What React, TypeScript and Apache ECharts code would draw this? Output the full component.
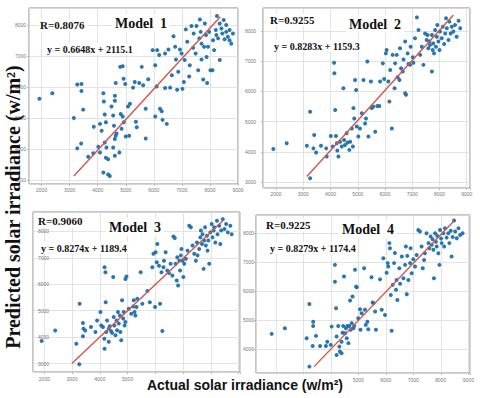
import React, { useEffect, useRef } from "react";
import * as echarts from "echarts";

// ---------- data (actual, predicted) ----------
const model1Points: [number, number][] = [
  [1920, 5620], [2380, 5800], [3150, 5000], [3270, 6080], [3420, 6100], [3420, 5870], [3480, 5270],
  [3270, 4020], [3410, 4180], [3660, 3750], [3860, 4720], [3840, 3860], [4020, 4070], [4080, 3890],
  [4200, 5800], [4220, 5530], [4250, 5110], [4290, 4860], [4080, 4810], [4140, 4590], [4250, 4210],
  [4310, 4050], [4290, 3720], [4370, 3670], [4200, 3240], [4370, 3180], [4430, 3130], [4490, 5370],
  [4610, 5720], [4610, 5560], [4640, 6130], [4550, 5080], [4580, 4750], [4640, 4430], [4610, 4320],
  [4670, 4500], [4550, 4050], [4610, 3780], [4770, 3890], [4800, 6650], [4890, 6670], [4920, 6270],
  [4980, 6100], [4820, 5130], [4890, 5050], [4930, 4860], [4850, 4650], [5000, 4400], [5120, 4430],
  [5080, 5370], [5150, 5460], [5260, 5980], [5320, 6160], [5360, 4880], [5390, 4700], [5480, 6130],
  [5570, 6650], [5620, 6060], [5710, 5300], [5710, 4340], [5800, 6250], [5960, 7190], [6050, 6700],
  [6100, 6020], [6120, 7190], [6190, 7030], [6050, 5050], [6220, 5300], [6280, 5220], [6310, 4940],
  [6460, 4810], [6400, 7080], [6400, 5970], [6520, 7210], [6580, 5980], [6640, 6380], [6700, 7640],
  [6760, 7300], [6790, 6890], [6830, 5910], [6870, 6490], [6930, 7210], [6990, 7080], [7020, 5940],
  [7070, 6160], [7100, 6870], [7140, 7860], [7190, 7460], [7260, 6340], [7280, 6700], [7340, 7970],
  [7400, 7270], [7420, 7730], [7490, 7080], [7580, 6540], [7620, 7570], [7640, 8180], [7670, 7780],
  [7700, 7400], [7760, 6240], [7790, 7300], [7820, 8050], [7860, 7680], [7880, 6970], [7900, 6130],
  [7930, 7300], [7970, 7780], [8020, 6540], [8090, 6540], [8110, 7510], [8150, 7190], [8210, 7840],
  [8230, 7680], [8290, 7570], [8350, 6870], [8410, 7890], [8440, 7730], [8490, 8160], [8520, 7540],
  [8580, 7780], [8640, 7620], [8700, 7840], [8760, 7400], [8820, 7730], [8250, 8290], [8350, 8050],
  [8580, 8000], [8700, 7510], [7700, 6890], [7520, 7970],
];

const model2Points: [number, number][] = [
  [1900, 4100], [2390, 4290], [3130, 4210], [3250, 5330], [3400, 4560], [3370, 4120], [3470, 3980],
  [3250, 3130], [3650, 4210], [3840, 4120], [3860, 3850], [4010, 4530], [4080, 4180], [4130, 6950],
  [4140, 6600], [4170, 5390], [4200, 4530], [4230, 4290], [4250, 4050], [4290, 3850], [4350, 4340],
  [4410, 4180], [4470, 6110], [4500, 4400], [4530, 4230], [4590, 4620], [4620, 4310], [4690, 4070],
  [4720, 4340], [4780, 4780], [4820, 4180], [4840, 5450], [4870, 5110], [4900, 6380], [4940, 6050],
  [4960, 4840], [5020, 4510], [5080, 4780], [5150, 5280], [5210, 6380], [5270, 4940], [5300, 5110],
  [5350, 6990], [5390, 4510], [5480, 6330], [5510, 5450], [5570, 5500], [5640, 4670], [5720, 5520],
  [5790, 5520], [5820, 6330], [5920, 6930], [5970, 6410], [6030, 7260], [6060, 7370], [6120, 6330],
  [6160, 5670], [6190, 6710], [6250, 4780], [6280, 7210], [6350, 6110], [6370, 6930], [6430, 7210],
  [6460, 6470], [6530, 6380], [6550, 7430], [6590, 6770], [6650, 6660], [6680, 7060], [6740, 7650],
  [6740, 5940], [6770, 5890], [6830, 7260], [6860, 6910], [6920, 6880], [6940, 7480], [7020, 7130],
  [7040, 6950], [7100, 7760], [7170, 8450], [7230, 8030], [7290, 7210], [7350, 7480], [7410, 6880],
  [7470, 7920], [7530, 7700], [7560, 7870], [7590, 7430], [7630, 7650], [7650, 7540], [7720, 6660],
  [7720, 7870], [7750, 7370], [7770, 7590], [7800, 7260], [7840, 8030], [7870, 7480], [7900, 7810],
  [7920, 8200], [7960, 7650], [8000, 7370], [8020, 7980], [8080, 7760], [8120, 8140], [8170, 7570],
  [8210, 7920], [8240, 8420], [8270, 8090], [8330, 7700], [8360, 8310], [8410, 7920], [8450, 8140],
  [8510, 7980], [8570, 8200], [8630, 7810], [8700, 8340], [8760, 8090],
];

const model3Points: [number, number][] = [
  [1900, 3850], [2390, 4250], [3150, 3750], [3260, 2970], [3270, 5260], [3390, 4530], [3410, 4320],
  [3470, 4250], [3390, 4030], [3680, 4380], [3840, 4190], [3900, 4630], [4020, 4950], [4050, 4440],
  [4110, 4380], [4160, 3940], [4170, 3560], [4170, 6640], [4200, 6450], [4210, 5320], [4230, 4190],
  [4260, 4630], [4320, 4320], [4320, 3820], [4360, 4410], [4400, 4230], [4440, 4160], [4480, 6270],
  [4500, 4760], [4520, 4440], [4560, 4070], [4600, 4630], [4620, 4260], [4650, 4950], [4680, 4510],
  [4720, 4820], [4740, 4190], [4770, 3880], [4800, 5390], [4840, 4700], [4860, 4950], [4890, 4440],
  [4920, 6200], [4920, 4570], [4960, 6290], [5040, 5070], [5130, 4880], [5200, 5160], [5220, 5390],
  [5250, 4950], [5280, 4820], [5320, 5140], [5350, 5450], [5470, 6450], [5530, 5260], [5710, 5740],
  [5800, 5320], [5890, 6640], [5930, 7150], [5990, 5140], [6010, 7210], [6050, 6830], [6070, 7520],
  [6130, 6700], [6170, 5260], [6220, 6450], [6250, 4230], [6290, 6640], [6310, 6890], [6370, 7210],
  [6430, 6520], [6490, 6420], [6550, 6770], [6610, 6330], [6650, 7800], [6700, 7750], [6730, 6770],
  [6770, 6140], [6790, 7020], [6820, 5950], [6860, 6890], [6890, 6520], [6920, 7090], [6940, 7330],
  [6980, 6890], [7010, 6270], [7040, 6770], [7100, 6960], [7160, 7270], [7220, 8210], [7280, 8150],
  [7340, 7460], [7400, 7150], [7460, 6890], [7500, 7580], [7520, 7090], [7580, 7330], [7620, 7770],
  [7640, 8030], [7680, 7520], [7700, 7890], [7740, 6580], [7760, 7650], [7790, 8150], [7820, 7460],
  [7860, 7830], [7880, 7270], [7910, 7650], [7940, 6770], [7980, 7960], [8030, 8280], [8060, 7770],
  [8100, 8030], [8120, 8150], [8160, 7580], [8220, 8400], [8240, 7890], [8300, 8210], [8340, 7520],
  [8370, 8030], [8430, 8460], [8490, 8090], [8550, 8280], [8610, 7960], [8700, 8210], [8750, 7890],
];

const model4Points: [number, number][] = [
  [1850, 4530], [2330, 4720], [3120, 4380], [3220, 5560], [3360, 4950], [3360, 4800], [3340, 4110],
  [3220, 3400], [3460, 4460], [3610, 4110], [3820, 4110], [3870, 4260], [4030, 4780], [4000, 4150],
  [4150, 6910], [4150, 6330], [4190, 5410], [4210, 4440], [4210, 3800], [4270, 4800], [4310, 4090],
  [4330, 3920], [4390, 4260], [4390, 3860], [4430, 4570], [4450, 4800], [4480, 6510], [4520, 4550],
  [4550, 4720], [4580, 4380], [4600, 4800], [4640, 4210], [4670, 4800], [4700, 5680], [4720, 4670],
  [4760, 4900], [4790, 5820], [4820, 4720], [4850, 4800], [4880, 6740], [4920, 6160], [4940, 6140],
  [5000, 5070], [5060, 5380], [5080, 4670], [5120, 5240], [5210, 6790], [5240, 5360], [5270, 4840],
  [5330, 4950], [5360, 4690], [5480, 6480], [5520, 5610], [5550, 5590], [5610, 5300], [5640, 4670],
  [5790, 6410], [5850, 5360], [5910, 7140], [5970, 5180], [6030, 6640], [6070, 6970], [6090, 6850],
  [6130, 7660], [6150, 7480], [6180, 5870], [6210, 4640], [6250, 6220], [6300, 6970], [6330, 7320],
  [6370, 6050], [6390, 6390], [6420, 5700], [6490, 6790], [6520, 6260], [6580, 7200], [6640, 6450],
  [6700, 6910], [6730, 7540], [6760, 5900], [6780, 7220], [6820, 6390], [6880, 6970], [6900, 7480],
  [6940, 6620], [7000, 7100], [7060, 6850], [7120, 7250], [7180, 8110], [7240, 8060], [7300, 7540],
  [7340, 6790], [7390, 7080], [7420, 7310], [7480, 8000], [7550, 7660], [7580, 7480], [7630, 7890],
  [7670, 7600], [7700, 7790], [7730, 7430], [7750, 6450], [7790, 8000], [7820, 7710], [7850, 7540],
  [7870, 7910], [7910, 7310], [7950, 6910], [7970, 8110], [8010, 7820], [8030, 7660], [8090, 8000],
  [8120, 7540], [8150, 8170], [8210, 7850], [8270, 8000], [8310, 7660], [8360, 8090], [8390, 7200],
  [8430, 7870], [8480, 8440], [8520, 8060], [8580, 7830], [8640, 8170], [8700, 7940], [8790, 8000],
];

// reference (1:1) lines drawn in each panel
const model1Line: [number, number][] = [[3150, 3130], [8370, 8270]];
const model2Line: [number, number][] = [[3130, 3190], [8510, 8530]];
const model3Line: [number, number][] = [[2990, 3000], [8430, 8400]];
const model4Line: [number, number][] = [[3390, 3400], [8450, 8400]];

const modelNames = ["Model  1", "Model  2", "Model  3", "Model  4"];
const rValues = ["R=0.8076", "R=0.9255", "R=0.9060", "R=0.9225"];
const equations = [
  "y = 0.6648x + 2115.1",
  "y = 0.8283x + 1159.3",
  "y = 0.8274x + 1189.4",
  "y = 0.8279x + 1174.4",
];
const xRanges: [number, number][] = [[1550, 9000], [1520, 9120], [1590, 9050], [1280, 9060]];
const yRanges: [number, number][] = [[2870, 8550], [2810, 8760], [2680, 8730], [3180, 8630]];
// x tick labels that are visible (the rest are hidden behind the axis title in the reference)
const xVisibleTicks: [number, number][] = [[2000, 9000], [2000, 9000], [2000, 5000], [5000, 9000]];
const xTitle = "Actual solar irradiance (w/m²)";
const yTitle = "Predicted solar irradiance (w/m²)";

// ---------- layout ----------
const grids = [
  { left: 29, top: 8, width: 209, height: 176 },
  { left: 263, top: 8, width: 207, height: 180 },
  { left: 33, top: 212, width: 207, height: 160 },
  { left: 256, top: 215, width: 214, height: 158 },
];
const yLabelCfg = [
  { inside: false, margin: 3 },
  { inside: false, margin: 7 },
  { inside: true, margin: 5 },
  { inside: false, margin: 2 },
];
const xLabelMargin = [3, 3, 4, 4];
const textPos = [
  { r: [39, 25], m: [112, 23], e: [46, 49] },
  { r: [269, 20], m: [346, 24], e: [273, 46] },
  { r: [37, 221], m: [106, 227], e: [40, 248] },
  { r: [265, 225], m: [339, 229], e: [269, 248] },
];

const allPoints = [model1Points, model2Points, model3Points, model4Points];
const allLines = [model1Line, model2Line, model3Line, model4Line];

const isThousand = (v: number) => Math.abs(v % 1000) < 1e-6;

export default function App() {
  const ref = useRef<HTMLDivElement>(null);

  useEffect(() => {
    document.body.style.margin = "0";
    if (!ref.current) return;
    const chart = echarts.init(ref.current, undefined, { renderer: "svg" });

    const labelStyle = { fontSize: 5, color: "#777", fontFamily: "Liberation Sans" };
    const splitLine = { show: true, lineStyle: { color: "#dcdcdc", width: 0.8 } };

    const option: any = {
      animation: false,
      backgroundColor: "#fff",
      grid: grids.map((g) => ({
        ...g,
        show: true,
        borderColor: "#8a8a8a",
        borderWidth: 1,
        backgroundColor: "#fff",
        containLabel: false,
      })),
      xAxis: grids.map((_, i) => ({
        type: "value",
        gridIndex: i,
        min: xRanges[i][0],
        max: xRanges[i][1],
        minInterval: 1000,
        maxInterval: 1000,
        axisLine: { show: false },
        axisTick: { show: true, length: 2, lineStyle: { color: "#999", width: 0.6 } },
        axisLabel: {
          ...labelStyle,
          margin: xLabelMargin[i],
          showMinLabel: false,
          formatter: (v: number) =>
            isThousand(v) && v >= xVisibleTicks[i][0] && v <= xVisibleTicks[i][1] ? String(v) : "",
        },
        splitLine,
      })),
      yAxis: grids.map((_, i) => ({
        type: "value",
        gridIndex: i,
        min: yRanges[i][0],
        max: yRanges[i][1],
        minInterval: 1000,
        maxInterval: 1000,
        axisLine: { show: false },
        axisTick: { show: !yLabelCfg[i].inside, length: 2, lineStyle: { color: "#999", width: 0.6 } },
        axisLabel: {
          ...labelStyle,
          inside: yLabelCfg[i].inside,
          margin: yLabelCfg[i].margin,
          showMinLabel: false,
          showMaxLabel: false,
          formatter: (v: number) => (isThousand(v) ? String(v) : ""),
        },
        splitLine,
      })),
      series: [
        ...allPoints.map((pts, i) => ({
          type: "scatter",
          xAxisIndex: i,
          yAxisIndex: i,
          data: pts,
          symbolSize: 4,
          itemStyle: { color: "#1f6fad", opacity: 0.95 },
          z: 3,
        })),
        ...allLines.map((ln, i) => ({
          type: "line",
          xAxisIndex: i,
          yAxisIndex: i,
          data: ln,
          symbol: "none",
          lineStyle: { color: "#d2554c", width: 1.4 },
          z: 4,
        })),
      ],
      graphic: [
        ...textPos.flatMap((p, i) => [
          {
            type: "text",
            z: 100,
            x: p.r[0],
            y: p.r[1],
            style: {
              text: rValues[i],
              font: "bold 11px 'Liberation Serif'",
              fill: "#111",
              textVerticalAlign: "middle",
              backgroundColor: "#fff",
              padding: [1, 1],
            },
          },
          {
            type: "text",
            z: 100,
            x: p.m[0],
            y: p.m[1],
            style: {
              text: modelNames[i],
              font: "bold 14px 'Liberation Serif'",
              fill: "#111",
              textVerticalAlign: "middle",
              backgroundColor: "#fff",
              padding: [2, 3],
            },
          },
          {
            type: "text",
            z: 100,
            x: p.e[0],
            y: p.e[1],
            style: {
              text: equations[i],
              font: "bold 10px 'Liberation Serif'",
              fill: "#111",
              textVerticalAlign: "middle",
              backgroundColor: "#fff",
              padding: [1, 1],
            },
          },
        ]),
        {
          type: "text",
          z: 100,
          x: 245,
          y: 385,
          style: {
            text: xTitle,
            font: "bold 14px 'Liberation Sans'",
            fill: "#111",
            textAlign: "center",
            textVerticalAlign: "middle",
            backgroundColor: "#fff",
            padding: [4, 3],
          },
        },
        {
          type: "text",
          z: 100,
          x: 13,
          y: 207,
          rotation: Math.PI / 2,
          style: {
            text: yTitle,
            font: "bold 20px 'Liberation Serif'",
            fill: "#111",
            textAlign: "center",
            textVerticalAlign: "middle",
          },
        },
      ],
    };

    chart.setOption(option);
    return () => chart.dispose();
  }, []);

  return <div ref={ref} style={{ width: 480, height: 398 }} />;
}
